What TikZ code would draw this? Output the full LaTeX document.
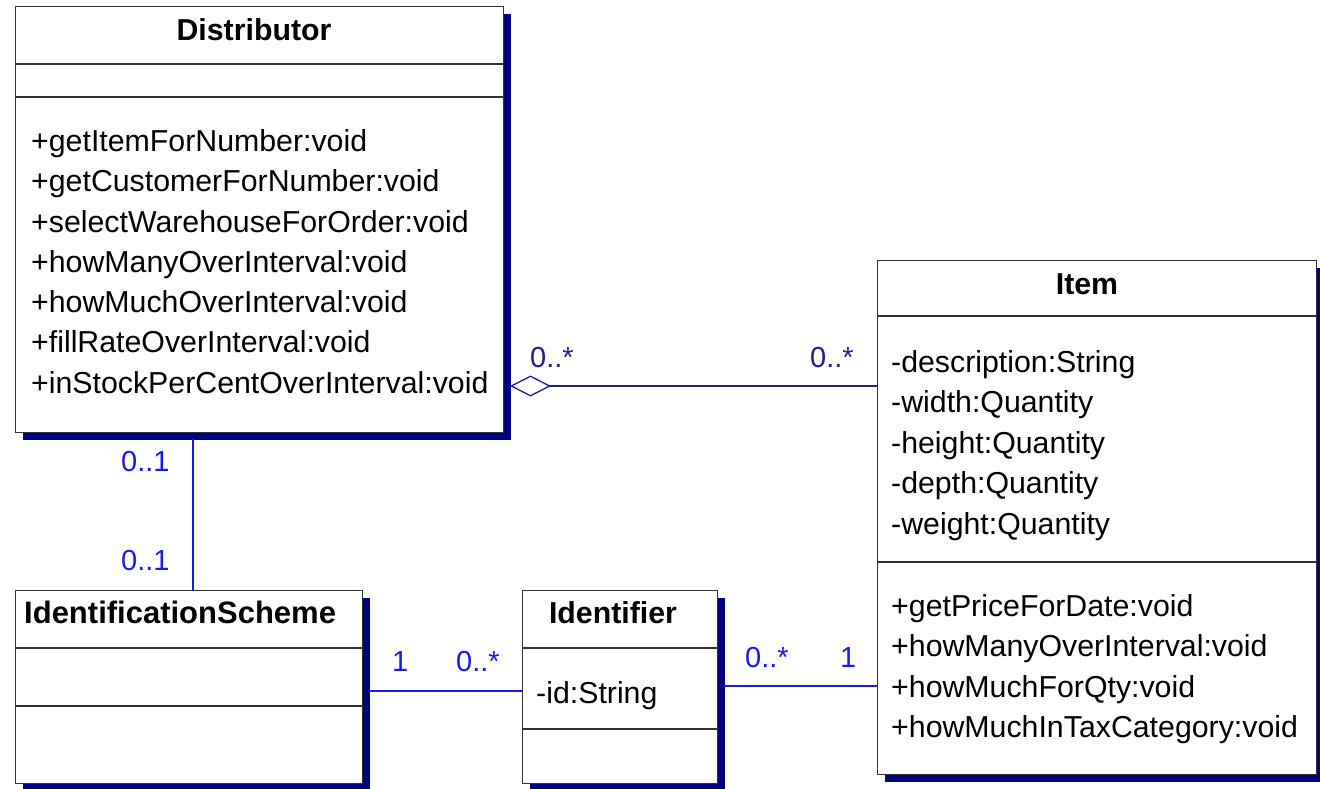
\documentclass[tikz,border=0pt]{standalone}
\usepackage{fontspec}
\setmainfont{Liberation Sans}
\usetikzlibrary{shadows,arrows.meta}
\definecolor{shadowblue}{RGB}{0,0,128}
\definecolor{linkblue}{RGB}{25,25,235}
\definecolor{aggblue}{RGB}{30,30,140}
\definecolor{boxline}{RGB}{50,50,50}
\begin{document}
\begin{tikzpicture}[x=1pt,y=-1pt,
  classbox/.style={draw=boxline, line width=1.4pt, fill=white, inner sep=0pt, anchor=north west,
    drop shadow={shadow xshift=7pt,shadow yshift=-7pt,fill=shadowblue,opacity=1}},
  sep/.style={draw=boxline, line width=1.4pt},
  member/.style={anchor=base west, inner sep=0pt, font=\fontsize{30.3}{36}\selectfont},
  ctitle/.style={anchor=base, inner sep=0pt, font=\fontsize{30.3}{36}\selectfont\bfseries},
  ltitle/.style={anchor=base west, inner sep=0pt, font=\fontsize{31}{36}\selectfont\bfseries},
  mult/.style={anchor=base west, inner sep=0pt, font=\fontsize{29}{34}\selectfont},
  link/.style={draw=linkblue, line width=1.5pt},
  agg/.style={draw=aggblue, line width=1.5pt, {Diamond[open,length=41pt,width=21pt,line width=1.3pt]}-}
]
\useasboundingbox (0,0) rectangle (1320,789);

% Distributor
\node[classbox, minimum width=488pt, minimum height=426pt] (dist) at (15,6) {};
\draw[sep] (15,64) -- (503,64);
\draw[sep] (15,97) -- (503,97);
\node[ctitle] (distT) at (254,40.5) {Distributor};
\node[member] (d1) at (31,151.5) {+getItemForNumber:void};
\node[member] (d2) at (31,191.7) {+getCustomerForNumber:void};
\node[member] (d3) at (31,232.2) {+selectWarehouseForOrder:void};
\node[member] (d4) at (31,272.3) {+howManyOverInterval:void};
\node[member] (d5) at (31,312.6) {+howMuchOverInterval:void};
\node[member] (d6) at (31,352.8) {+fillRateOverInterval:void};
\node[member] (d7) at (31,393.2) {+inStockPerCentOverInterval:void};

% Item
\node[classbox, minimum width=439pt, minimum height=514pt] (item) at (877,260) {};
\draw[sep] (877,316) -- (1316,316);
\draw[sep] (877,562) -- (1316,562);
\node[ctitle] (itemT) at (1087,294) {Item};
\node[member] (i1) at (891,372) {-description:String};
\node[member] (i2) at (891,412.5) {-width:Quantity};
\node[member] (i3) at (891,453) {-height:Quantity};
\node[member] (i4) at (891,493.5) {-depth:Quantity};
\node[member] (i5) at (891,534) {-weight:Quantity};
\node[member] (i6) at (891,616) {+getPriceForDate:void};
\node[member] (i7) at (891,656.5) {+howManyOverInterval:void};
\node[member] (i8) at (891,697) {+howMuchForQty:void};
\node[member] (i9) at (891,737.5) {+howMuchInTaxCategory:void};

% IdentificationScheme
\node[classbox, minimum width=347pt, minimum height=193pt] (ids) at (15,590) {};
\draw[sep] (15,648) -- (362,648);
\draw[sep] (15,706) -- (362,706);
\node[ltitle] (idsT) at (24,623.5) {IdentificationScheme};

% Identifier
\node[classbox, minimum width=195pt, minimum height=193pt] (idf) at (522,590) {};
\draw[sep] (522,648) -- (717,648);
\draw[sep] (522,729) -- (717,729);
\node[ctitle] (idfT) at (613,623.5) {Identifier};
\node[member] (f1) at (536,703) {-id:String};

% connectors
\coordinate (aggL) at (510,386);
\draw[agg] (aggL) -- (aggL -| item.west);
\coordinate (vtop) at (193,439);
\draw[link] (vtop) -- (vtop |- ids.north);
\coordinate (hl) at (369,691);
\draw[link] (hl) -- (hl -| idf.west);
\coordinate (hr) at (724,686);
\draw[link] (hr) -- (hr -| item.west);

% multiplicities
\node[mult, text=aggblue] (m1) at (530,367) {0..*};
\node[mult, text=aggblue] (m2) at (810,367) {0..*};
\node[mult, text=linkblue] (m3) at (121,471) {0..1};
\node[mult, text=linkblue] (m4) at (121,570) {0..1};
\node[mult, text=linkblue] (m5) at (392,671) {1};
\node[mult, text=linkblue] (m6) at (456,671) {0..*};
\node[mult, text=linkblue] (m7) at (745,667) {0..*};
\node[mult, text=linkblue] (m8) at (840,667) {1};
\end{tikzpicture}
\end{document}
